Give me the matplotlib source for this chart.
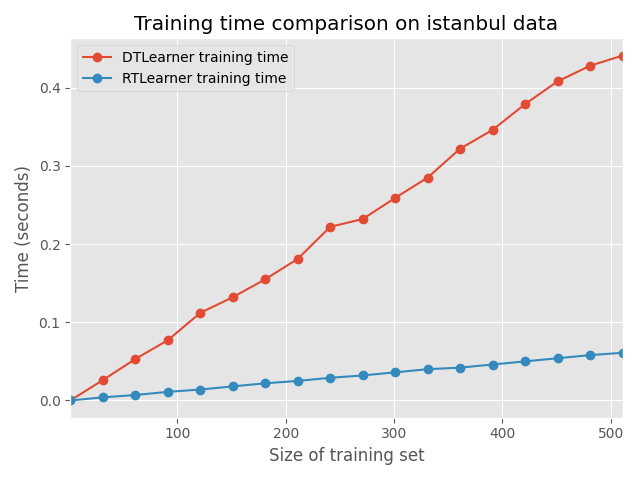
import matplotlib
matplotlib.use("Agg")
import matplotlib.pyplot as plt

plt.style.use("ggplot")

sizes = [1, 31, 61, 91, 121, 151, 181, 211, 241, 271, 301, 331, 361, 391, 421, 451, 481, 511]
dt_times = [0.0, 0.026, 0.053, 0.077, 0.112, 0.132, 0.155, 0.181, 0.222, 0.232, 0.259, 0.285,
            0.322, 0.346, 0.379, 0.408, 0.428, 0.441]
rt_times = [0.0, 0.004, 0.007, 0.011, 0.014, 0.018, 0.022, 0.025, 0.029, 0.032, 0.036, 0.040,
            0.042, 0.046, 0.050, 0.054, 0.058, 0.061]

fig, ax = plt.subplots(figsize=(6.4, 4.8), dpi=100)
ax.plot(sizes, dt_times, marker="o", label="DTLearner training time")
ax.plot(sizes, rt_times, marker="o", label="RTLearner training time")
ax.set_xlim(1, 511)
ax.set_title("Training time comparison on istanbul data")
ax.set_xlabel("Size of training set")
ax.set_ylabel("Time (seconds)")
ax.legend(loc="upper left")
fig.tight_layout()
fig.savefig("out.png")
